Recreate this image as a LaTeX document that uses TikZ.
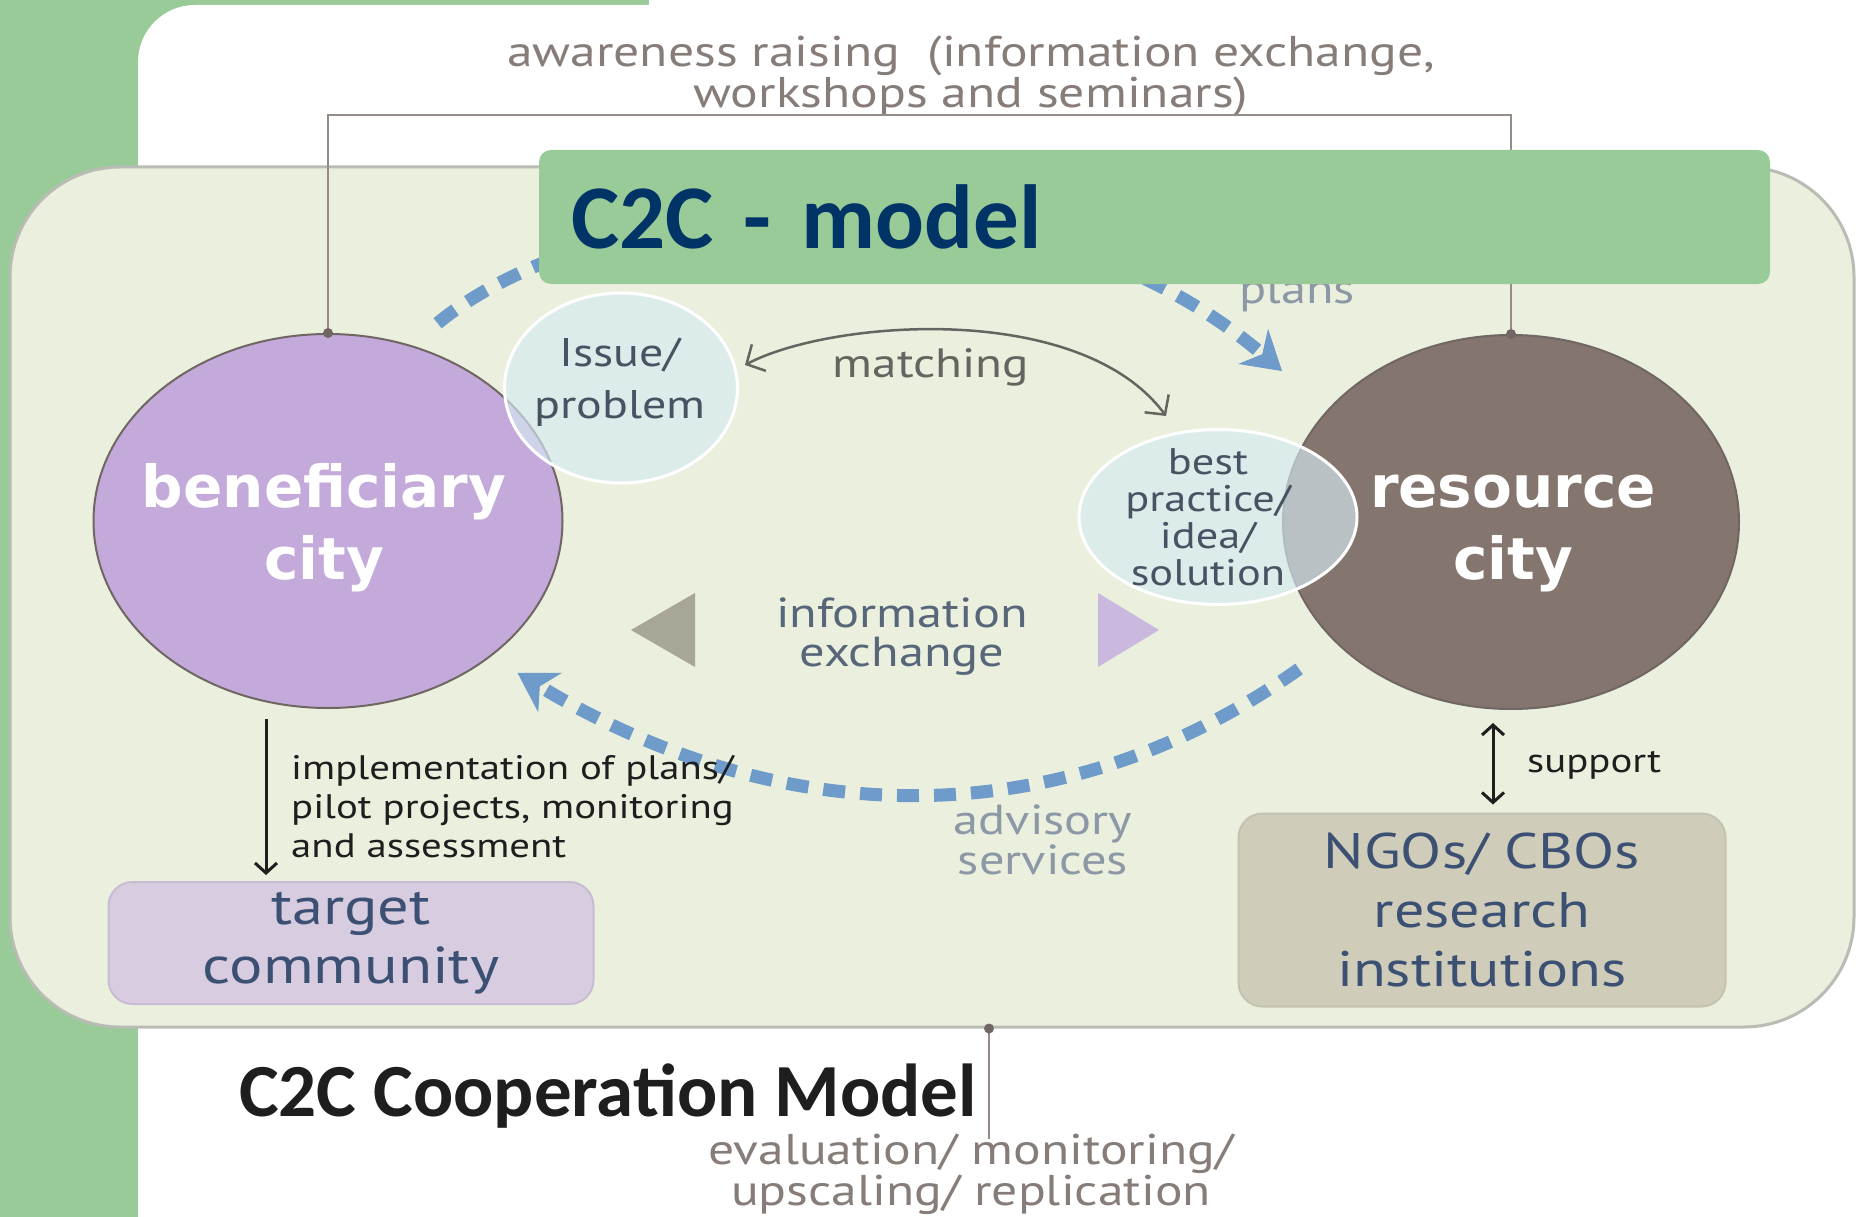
\documentclass[tikz,border=0pt]{standalone}
\usepackage{fontspec}
\usepackage{xcolor}
\usepackage{tikz}
\usetikzlibrary{calc,shapes.geometric,arrows.meta}

\newfontfamily\labelfont[FakeStretch=1.2]{PT Sans}
\newfontfamily\cityfont{DejaVu Sans}
\newfontfamily\slidefont{Carlito}
\newcommand{\pxfont}[2]{\fontsize{#1pt}{#2pt}\selectfont}

\definecolor{slidegreen}{RGB}{153,203,152}
\definecolor{panelfill}{RGB}{234,240,221}
\definecolor{panelline}{RGB}{185,188,180}
\definecolor{benefill}{RGB}{195,170,218}
\definecolor{resfill}{RGB}{132,118,110}
\definecolor{cityline}{RGB}{112,102,100}
\definecolor{bubblefill}{RGB}{214,234,244}
\definecolor{bubbletextc}{RGB}{72,82,98}
\definecolor{flowblue}{RGB}{111,155,203}
\definecolor{bracketgray}{RGB}{150,140,135}
\definecolor{notegray}{RGB}{135,125,120}
\definecolor{matchgray}{RGB}{100,100,96}
\definecolor{slate}{RGB}{88,102,122}
\definecolor{advisegray}{RGB}{140,152,165}
\definecolor{boxtext}{RGB}{60,80,115}
\definecolor{targetfill}{RGB}{216,204,224}
\definecolor{targetline}{RGB}{200,188,210}
\definecolor{ngofill}{RGB}{207,205,186}
\definecolor{ngoline}{RGB}{196,194,176}
\definecolor{tridark}{RGB}{168,166,150}
\definecolor{trilight}{RGB}{202,184,222}
\definecolor{titlenavy}{RGB}{0,51,102}
\definecolor{inkblack}{RGB}{30,30,30}

\tikzset{
  panelbox/.style={rectangle, rounded corners=110pt, draw=panelline, line width=3pt, fill=panelfill},
  city/.style={ellipse, draw=cityline, line width=2pt, inner sep=0pt},
  citytext/.style={font=\cityfont\bfseries\pxfont{58}{72}, text=white, align=center, inner sep=0pt},
  bubble/.style={ellipse, draw=white, line width=3pt, fill=bubblefill, fill opacity=0.65, inner sep=0pt},
  bubbletext/.style={font=\labelfont\pxfont{40}{52}, text=bubbletextc, align=center, inner sep=0pt},
  notetext/.style={font=\labelfont\pxfont{43}{38}, text=notegray, align=center, inner sep=0pt},
  bracketline/.style={draw=bracketgray, line width=2.2pt},
  flow/.style={draw=flowblue, line width=13pt, dash pattern=on 22pt off 15pt,
    -{Stealth[length=38pt,width=46pt,inset=12pt,line width=1pt]}},
  match/.style={draw=matchgray, line width=2.5pt,
    {Straight Barb[length=14pt,width=30pt]}-{Straight Barb[length=14pt,width=30pt]}},
  blackarrow/.style={draw=inkblack, line width=3pt, -{Straight Barb[length=10pt,width=22pt]}},
  smalltext/.style={font=\labelfont\pxfont{34}{39}, text=inkblack, inner sep=0pt},
  partnerbox/.style={rectangle, rounded corners=24pt, line width=2pt, text=boxtext,
    font=\labelfont\pxfont{50}{59}, align=center},
  titlebox/.style={rectangle, rounded corners=12pt, fill=slidegreen, minimum width=1231pt,
    minimum height=134pt, inner xsep=32pt, text width=1167pt, align=left,
    font=\slidefont\bfseries\pxfont{91}{91}, text=titlenavy},
}

\begin{document}
\begin{tikzpicture}[x=1pt,y=-1pt]
\useasboundingbox (0,0) rectangle (1856,1217);
\clip (0,0) rectangle (1856,1217);
% slide background
\fill[white] (0,0) rectangle (1856,1217);
\fill[slidegreen] (0,0) rectangle (649,1217);
\fill[white, rounded corners=57pt] (138,5) rectangle (1950,1300);

% diagram panel
\node[panelbox, minimum width=1844pt, minimum height=860pt] (panel) at (932,597) {};

% awareness raising
\node[notetext] (aware) at (971,76) {awareness raising\ \ (information exchange,\\workshops and seminars)};

% the two cities
\node[city, fill=benefill, minimum width=469pt, minimum height=374pt] (bene) at (328,521) {};
\node[city, fill=resfill, minimum width=456pt, minimum height=374pt] (res) at (1511,522) {};
\node[citytext] (benetext) at (324,528) {beneficiary\\city};
\node[citytext] (restext) at (1513,534) {resource\\city};

\draw[bracketline] (bene.north) -- ++(0,-218) -| (res.north);
\fill[cityline] (bene.north) circle (5pt);
\fill[cityline] (res.north) circle (5pt);

% issue and solution bubbles
\node[bubble, minimum width=233pt, minimum height=190pt] (issue) at (621,388) {};
\node[bubble, minimum width=278pt, minimum height=175pt] (best) at (1218,517) {};
\node[bubbletext] (issuetext) at (620,382) {Issue/\\problem};
\node[bubbletext, font=\labelfont\pxfont{37}{37}] (besttext) at (1208,517) {best\\practice/\\idea/\\solution};

\draw[match] ($(issue.east)+(6,-23)$) .. controls (830,320) and (1080,300) .. ($(best.north)+(-52,-12)$);
\node[bubbletext, font=\labelfont\pxfont{41}{41}, text=matchgray, anchor=base] (matchtext) at (931,377) {matching};

% information exchange
\fill[tridark] (631,630) -- (695,593) -- (695,667) -- cycle;
\fill[trilight] (1159,630) -- (1098,593) -- (1098,667) -- cycle;
\node[notetext, font=\labelfont\pxfont{42}{39}, text=slate] (infox) at (902,637) {information\\exchange};

% plans and advisory services
\node[notetext, font=\labelfont\pxfont{42}{42}, text=advisegray, anchor=base] (plans) at (1297,303) {plans};
\draw[flow] ($(bene.60)+(11,-27)$) .. controls (600,190) and (1020,148) .. ($(res.north west)+(-67,-18)$);
\draw[flow] ($(res.south west)+(-50,14)$) .. controls (1057,840) and (778,830) .. ($(bene.south east)+(23,19)$);
\node[notetext, font=\labelfont\pxfont{42}{40}, text=advisegray] (advice) at (1043,840) {advisory\\services};

% target community
\node[partnerbox, fill=targetfill, draw=targetline, minimum width=485pt, minimum height=122pt,
      font=\labelfont\pxfont{52}{59}] (target) at (351,943) {target\\community};
\draw[blackarrow] ($(bene.south)+(-62,10)$) -- ($(target.north)+(-85,-6)$);
\node[smalltext, anchor=west, align=left] (impl) at (291,807) {implementation of plans/\\pilot projects, monitoring\\and assessment};

% NGOs
\node[partnerbox, fill=ngofill, draw=ngoline, minimum width=487pt, minimum height=193pt] (ngo) at (1482,910) {NGOs/ CBOs\\research\\institutions};
\draw[blackarrow, {Straight Barb[length=10pt,width=22pt]}-{Straight Barb[length=10pt,width=22pt]}] ($(res.south)+(-18,13)$) -- ($(ngo.north)+(11,-8)$);
\node[smalltext, anchor=west] (support) at (1527,765) {support};

% evaluation
\draw[bracketline] ($(panel.south)+(57,0)$) -- ++(0,110);
\fill[cityline] ($(panel.south)+(57,0)$) circle (5pt);
\node[notetext, font=\labelfont\pxfont{43}{41}] (evaluate) at (971,1174) {evaluation/ monitoring/\\upscaling/ replication};

% slide titles
\node[titlebox] (title) at (1154.5,217) {C2C - model};
\node[font=\slidefont\bfseries\pxfont{75}{75}, text=inkblack, anchor=base west, inner sep=0pt] (caption) at (239,1116) {C2C Cooperation Model};
\end{tikzpicture}
\end{document}
